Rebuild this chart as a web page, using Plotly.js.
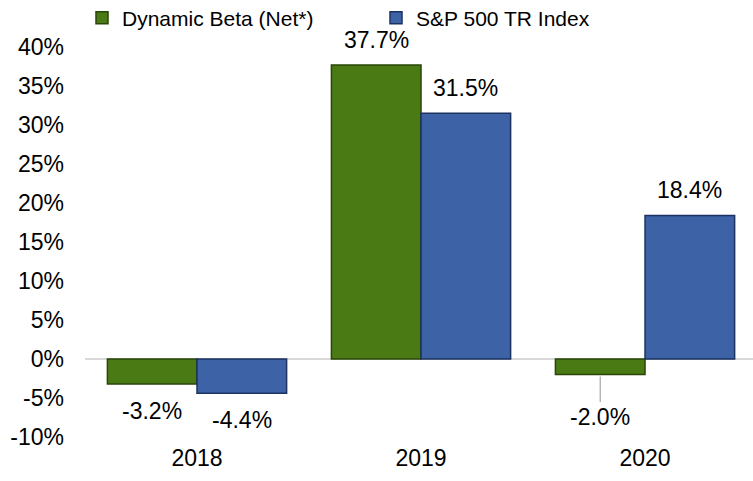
<!DOCTYPE html>
<html>
<head>
<meta charset="utf-8">
<script src="https://cdn.plot.ly/plotly-3.0.1.min.js"></script>
<style>html,body{margin:0;padding:0;background:#fff;}#chart{width:753px;height:481px;}</style>
</head>
<body>
<div id="chart"></div>
<script>
// ---- data ----
var years = ['2018', '2019', '2020'];
var seriesNames = ['Dynamic Beta (Net*)', 'S&P 500 TR Index'];
var dynamicBeta = [-3.2, 37.7, -2.0];
var sp500 = [-4.4, 31.5, 18.4];
var yTickVals = [-10, -5, 0, 5, 10, 15, 20, 25, 30, 35, 40];
var yTickText = ['-10%', '-5%', '0%', '5%', '10%', '15%', '20%', '25%', '30%', '35%', '40%'];

// ---- styles ----
var FONT = 'Liberation Sans, Arial, sans-serif';
var colors = ['#4a7a14', '#3d62a6'];
var edgeColors = ['#2a4608', '#1c3260'];
var barShift = 44.8;

var traces = [dynamicBeta, sp500].map(function (vals, i) {
  return {
    type: 'bar',
    name: seriesNames[i],
    x: years,
    y: vals,
    marker: { color: colors[i], line: { color: edgeColors[i], width: 1.5 } },
    legend: i === 0 ? 'legend' : 'legend2',
    hoverinfo: 'skip'
  };
});

var annotations = [];
[dynamicBeta, sp500].forEach(function (vals, i) {
  vals.forEach(function (v, j) {
    var a = {
      xref: 'x', yref: 'y', x: j, y: v,
      xshift: (i === 0 ? -1 : 1) * barShift,
      text: v.toFixed(1) + '%',
      font: { family: FONT, size: 23, color: '#000' },
      showarrow: false
    };
    if (v >= 0) {
      a.yshift = 25;
    } else if (Math.abs(v) < 2.5) {
      a.showarrow = true;
      a.ax = 0; a.ay = 42;
      a.arrowhead = 0; a.arrowwidth = 1.2; a.arrowcolor = '#a6a6a6';
      a.standoff = 2;
    } else {
      a.yshift = -27;
    }
    annotations.push(a);
  });
});

var legendCommon = {
  orientation: 'h',
  xref: 'container', yref: 'container',
  yanchor: 'middle', xanchor: 'left',
  y: 1 - 18 / 481,
  bgcolor: 'rgba(0,0,0,0)',
  font: { family: FONT, size: 21, color: '#000' }
};

var layout = {
  width: 753, height: 481,
  margin: { l: 85, r: 0, t: 47, b: 44 },
  paper_bgcolor: '#fff', plot_bgcolor: '#fff',
  showlegend: true,
  legend: Object.assign({}, legendCommon, { x: 82 / 753 }),
  legend2: Object.assign({}, legendCommon, { x: 376 / 753 }),
  barmode: 'group',
  bargap: 0.2,
  bargroupgap: 0,
  xaxis: {
    type: 'category',
    range: [-0.5, 2.482],
    showgrid: false, zeroline: false, showline: false,
    ticks: '',
    tickfont: { family: FONT, size: 23, color: '#000' },
    ticklabelstandoff: 5
  },
  yaxis: {
    range: [-10, 40],
    tickvals: yTickVals,
    ticktext: yTickText,
    showgrid: false,
    zeroline: true, zerolinecolor: '#d9d9d9', zerolinewidth: 2,
    showline: false, ticks: '',
    tickfont: { family: FONT, size: 23, color: '#000' },
    ticklabelstandoff: 20
  },
  annotations: annotations
};

Plotly.newPlot('chart', traces, layout, { displayModeBar: false });
</script>
</body>
</html>
